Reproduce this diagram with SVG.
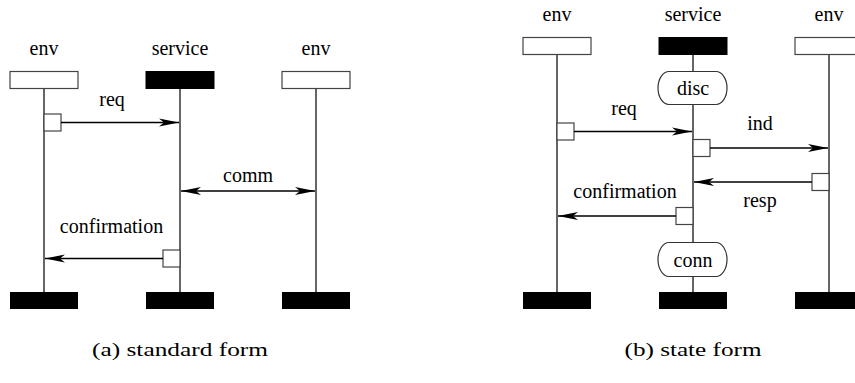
<svg xmlns="http://www.w3.org/2000/svg" width="855" height="383" viewBox="0 0 855 383">
  <style>
    .lbl { font-size: 20px; fill: #000; text-anchor: middle; }
    .cap { font-size: 19px; fill: #000; text-anchor: middle; }
    .life { stroke: #333; stroke-width: 1.5; fill: none; }
    .head { fill: #fff; stroke: #444; stroke-width: 1.2; }
    .headS { fill: #000; stroke: #000; stroke-width: 1; }
    .foot { fill: #000; }
    .act { fill: #fff; stroke: #444; stroke-width: 1.2; }
    .msg { stroke: #000; stroke-width: 1.4; fill: none; marker-end: url(#arrow); }
    .msg2 { stroke: #000; stroke-width: 1.4; fill: none; marker-end: url(#arrow); marker-start: url(#arrow); }
    .state { fill: #fff; stroke: #333; stroke-width: 1.2; }
  </style>
  <defs>
    <marker id="arrow" markerUnits="userSpaceOnUse" markerWidth="24" markerHeight="12" viewBox="-21 -6 22 12" refX="0" refY="0" orient="auto-start-reverse">
      <path d="M0,0 L-20,-4 L-15,0 L-20,4 Z" fill="#000"/>
    </marker>
  </defs>

  <g font-family="Liberation Serif, DejaVu Serif, serif">
  <!-- (a) standard form -->
  <g id="a-env-left">
    <text class="lbl" x="44" y="55">env</text>
    <rect class="head" x="10" y="71.5" width="68" height="17"/>
    <line class="life" x1="44" y1="89" x2="44" y2="292"/>
    <rect class="foot" x="10" y="292" width="68" height="17"/>
  </g>
  <g id="a-service">
    <text class="lbl" x="180" y="55">service</text>
    <rect class="headS" x="146" y="71.5" width="68" height="17"/>
    <line class="life" x1="180" y1="89" x2="180" y2="292"/>
    <rect class="foot" x="146" y="292" width="68" height="17"/>
  </g>
  <g id="a-env-right">
    <text class="lbl" x="316" y="55">env</text>
    <rect class="head" x="282" y="71.5" width="68" height="17"/>
    <line class="life" x1="316" y1="89" x2="316" y2="292"/>
    <rect class="foot" x="282" y="292" width="68" height="17"/>
  </g>
  <g id="a-req-act"><rect class="act" x="44" y="114" width="17" height="17"/></g>
  <g id="a-conf-act"><rect class="act" x="163" y="250" width="17" height="17"/></g>

  <!-- (b) state form -->
  <g id="b-env-left">
    <text class="lbl" x="557" y="21">env</text>
    <rect class="head" x="523" y="37.5" width="68" height="17"/>
    <line class="life" x1="557" y1="55" x2="557" y2="292"/>
    <rect class="foot" x="523" y="292" width="68" height="17"/>
  </g>
  <g id="b-service">
    <text class="lbl" x="693" y="21">service</text>
    <rect class="headS" x="659" y="37.5" width="68" height="17"/>
    <line class="life" x1="693" y1="55" x2="693" y2="292"/>
    <rect class="foot" x="659" y="292" width="68" height="17"/>
  </g>
  <g id="b-env-right">
    <text class="lbl" x="829" y="21">env</text>
    <rect class="head" x="795" y="37.5" width="68" height="17"/>
    <line class="life" x1="829" y1="55" x2="829" y2="292"/>
    <rect class="foot" x="795" y="292" width="68" height="17"/>
  </g>
  <g id="b-disc">
    <path class="state" d="M669,71.5 H716 A11,16.5 0 0 1 716,104.5 H669 A11,16.5 0 0 1 669,71.5 Z"/>
    <text class="lbl" x="693" y="95">disc</text>
  </g>
  <g id="b-conn">
    <path class="state" d="M669,242.5 H716 A11,17 0 0 1 716,276.5 H669 A11,17 0 0 1 669,242.5 Z"/>
    <text class="lbl" x="693" y="267">conn</text>
  </g>
  <g id="b-req-act"><rect class="act" x="557" y="123" width="17" height="17"/></g>
  <g id="b-ind-act"><rect class="act" x="693" y="139.5" width="17" height="17"/></g>
  <g id="b-resp-act"><rect class="act" x="812" y="173.5" width="17" height="17"/></g>
  <g id="b-conf-act"><rect class="act" x="676" y="207.5" width="17" height="17"/></g>

  <!-- messages -->
  <g id="connectors">
    <line class="msg" x1="61" y1="122.5" x2="179" y2="122.5"/>
    <text class="lbl" x="112" y="106">req</text>
    <line class="msg2" x1="181" y1="191" x2="315" y2="191"/>
    <text class="lbl" x="248" y="182">comm</text>
    <line class="msg" x1="163" y1="258.5" x2="45" y2="258.5"/>
    <text class="lbl" x="111.5" y="233">confirmation</text>

    <line class="msg" x1="574" y1="131.5" x2="692" y2="131.5"/>
    <text class="lbl" x="624" y="115">req</text>
    <line class="msg" x1="710" y1="148" x2="828" y2="148"/>
    <text class="lbl" x="760" y="130">ind</text>
    <line class="msg" x1="812" y1="182" x2="694" y2="182"/>
    <text class="lbl" x="760" y="207">resp</text>
    <line class="msg" x1="676" y1="216" x2="558" y2="216"/>
    <text class="lbl" x="625" y="198">confirmation</text>
  </g>

  <!-- captions -->
  <text class="cap" x="180" y="356" textLength="176" lengthAdjust="spacingAndGlyphs">(a) standard form</text>
  <text class="cap" x="693" y="356" textLength="137" lengthAdjust="spacingAndGlyphs">(b) state form</text>
  </g>
</svg>
